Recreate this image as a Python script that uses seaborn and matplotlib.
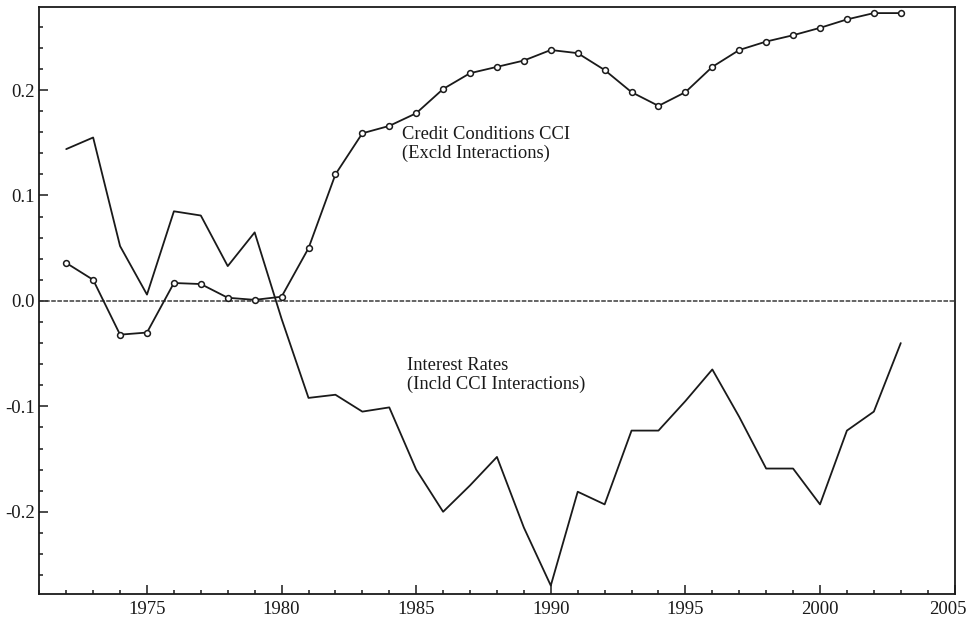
import numpy as np
import pandas as pd
import matplotlib
matplotlib.use("Agg")
import matplotlib.pyplot as plt
from matplotlib.ticker import MultipleLocator, FormatStrFormatter
from matplotlib.transforms import ScaledTranslation
import seaborn as sns

# Annual series, 1972-2003
years = list(range(1972, 2004))

cci = [0.036, 0.020, -0.032, -0.030, 0.017, 0.016, 0.003, 0.001, 0.004, 0.050,
       0.120, 0.159, 0.166, 0.178, 0.201, 0.216, 0.222, 0.228, 0.238, 0.235,
       0.219, 0.198, 0.185, 0.198, 0.222, 0.238, 0.246, 0.252, 0.259, 0.267,
       0.273, 0.273]

interest = [0.144, 0.155, 0.052, 0.006, 0.085, 0.081, 0.033, 0.065, -0.017, -0.092,
            -0.089, -0.105, -0.101, -0.160, -0.200, -0.175, -0.148, -0.215, -0.270, -0.181,
            -0.193, -0.123, -0.123, -0.095, -0.065, -0.110, -0.159, -0.159, -0.193, -0.123,
            -0.105, -0.040]

cci_label = "Credit Conditions CCI\n(Excld Interactions)"
interest_label = "Interest Rates\n(Incld CCI Interactions)"

x_ticks = [1975, 1980, 1985, 1990, 1995, 2000, 2005]
y_ticks = [-0.2, -0.1, 0.0, 0.1, 0.2]

df = pd.DataFrame({"year": years, "cci": cci, "interest": interest})

sns.set_style("white")
plt.rcParams["font.family"] = ["Liberation Serif", "DejaVu Serif"]

fig = plt.figure(figsize=(9.66, 6.18), dpi=100)
ax = fig.add_axes([39.3 / 966, 1 - 594 / 618, (954.6 - 39.3) / 966, (594 - 7.3) / 618])

ink = "#1a1a1a"

# zero reference line
ax.axhline(0.0, color="#3a3a3a", lw=1.1, ls=(0, (3, 1)), zorder=1)

sns.lineplot(data=df, x="year", y="interest", ax=ax, color=ink, lw=1.3,
             zorder=3)
sns.lineplot(data=df, x="year", y="cci", ax=ax, color=ink, lw=1.3,
             marker="o", markersize=4.2, markerfacecolor="white",
             markeredgecolor=ink, markeredgewidth=1.1, zorder=4)

ax.set_xlim(1971, 2005)
ax.set_ylim(-0.278, 0.2785)
ax.set_xlabel("")
ax.set_ylabel("")

ax.set_xticks(x_ticks)
ax.set_yticks(y_ticks)
ax.xaxis.set_minor_locator(MultipleLocator(1))
ax.yaxis.set_minor_locator(MultipleLocator(0.02))
ax.yaxis.set_major_formatter(FormatStrFormatter("%.1f"))

ax.tick_params(axis="both", which="major", direction="in", length=6.5, width=1.1,
               labelsize=13.5, color=ink, labelcolor=ink)
ax.tick_params(axis="both", which="minor", direction="in", length=3.2, width=1.1,
               color=ink)
ax.tick_params(axis="x", which="both", pad=5, top=False, bottom=True)
ax.tick_params(axis="y", which="both", pad=3, right=False, left=True)

for side in ["left", "bottom", "right", "top"]:
    ax.spines[side].set_visible(True)
    ax.spines[side].set_linewidth(1.3)
    ax.spines[side].set_color(ink)

# keep the last year label inside the canvas
last = ax.get_xticklabels()[-1]
last.set_transform(last.get_transform() + ScaledTranslation(-0.07, 0, fig.dpi_scale_trans))

ax.text(1984.47, 0.1352, cci_label, fontsize=13.3, color=ink,
        va="baseline", ha="left", linespacing=1.15)
ax.text(1984.67, -0.0837, interest_label, fontsize=13.3, color=ink,
        va="baseline", ha="left", linespacing=1.15)

fig.savefig("out.png", dpi=100)
